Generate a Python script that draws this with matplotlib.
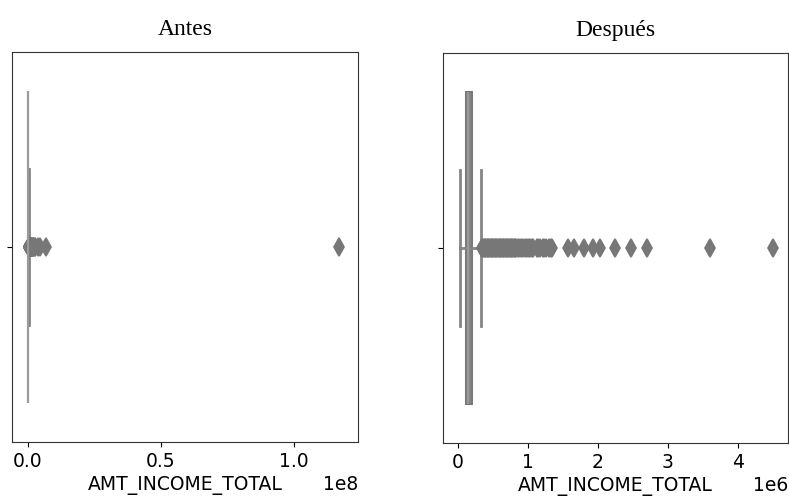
import matplotlib.pyplot as plt

# Datos (AMT_INCOME_TOTAL)
cuartiles = [112500, 147150, 202500]   # q1, mediana, q3
bigotes = [25650, 337500]               # min, max del bigote

atipicos_despues = [
    342000, 351000, 360000, 371250, 382500, 393750, 405000, 416250, 427500,
    438750, 450000, 461250, 472500, 483750, 495000, 506250, 517500, 528750,
    540000, 551250, 562500, 573750, 585000, 596250, 607500, 618750, 630000,
    641250, 652500, 663750, 675000, 686250, 697500, 708750, 720000, 731250,
    742500, 753750, 765000, 776250, 787500, 798750, 810000, 821250, 832500,
    855000, 877500, 900000, 922500, 945000, 967500, 990000, 1012500,
    1035000, 1057500, 1080000, 1125000, 1147500, 1170000, 1215000, 1237500,
    1260000, 1305000, 1327500, 1350000, 1575000, 1665000, 1800000, 1935000,
    2025000, 2250000, 2475000, 2700000, 3600000, 4500000,
]
atipicos_antes = atipicos_despues + [6750000, 117000000]

titulos = ["Antes", "Después"]
etiqueta_x = "AMT_INCOME_TOTAL"

gris = "#858585"


def stats(atipicos):
    return [{
        "q1": cuartiles[0], "med": cuartiles[1], "q3": cuartiles[2],
        "whislo": bigotes[0], "whishi": bigotes[1], "fliers": atipicos,
    }]


fig = plt.figure(figsize=(7.89, 5.04), dpi=100)
ax1 = fig.add_axes([0.0152, 0.123, 0.4385, 0.774])
ax2 = fig.add_axes([0.5615, 0.121, 0.437, 0.774])

for ax, atipicos, titulo in zip([ax1, ax2], [atipicos_antes, atipicos_despues], titulos):
    ax.bxp(
        stats(atipicos), positions=[0], widths=0.8, vert=False,
        patch_artist=True,
        boxprops=dict(facecolor="#858585", edgecolor="#7a7a7a", linewidth=1.5),
        medianprops=dict(color="#9a9a9a", linewidth=1.5),
        whiskerprops=dict(color=gris, linewidth=2),
        capprops=dict(color=gris, linewidth=2),
        capwidths=0.4,
        flierprops=dict(marker="d", markersize=9, markerfacecolor="#777777",
                        markeredgecolor="#777777", markeredgewidth=1.2,
                        linestyle="none"),
    )
    ax.set_ylim(0.5, -0.5)
    ax.set_yticks([0])
    ax.set_yticklabels([""])
    ax.set_title(titulo, family="Liberation Serif", fontsize=17, pad=12)
    ax.set_xlabel(etiqueta_x, fontsize=13.5)
    ax.tick_params(labelsize=13.5)
    ax.xaxis.get_offset_text().set_fontsize(13.5)
    for s in ax.spines.values():
        s.set_color("#333333")

ax1.set_xlim(-0.06e8, 1.24e8)
ax1.set_xticks([0, 0.5e8, 1.0e8])
ax2.set_xlim(-0.21e6, 4.71e6)
ax2.set_xticks([0, 1e6, 2e6, 3e6, 4e6])

fig.savefig("out.png", dpi=100)
